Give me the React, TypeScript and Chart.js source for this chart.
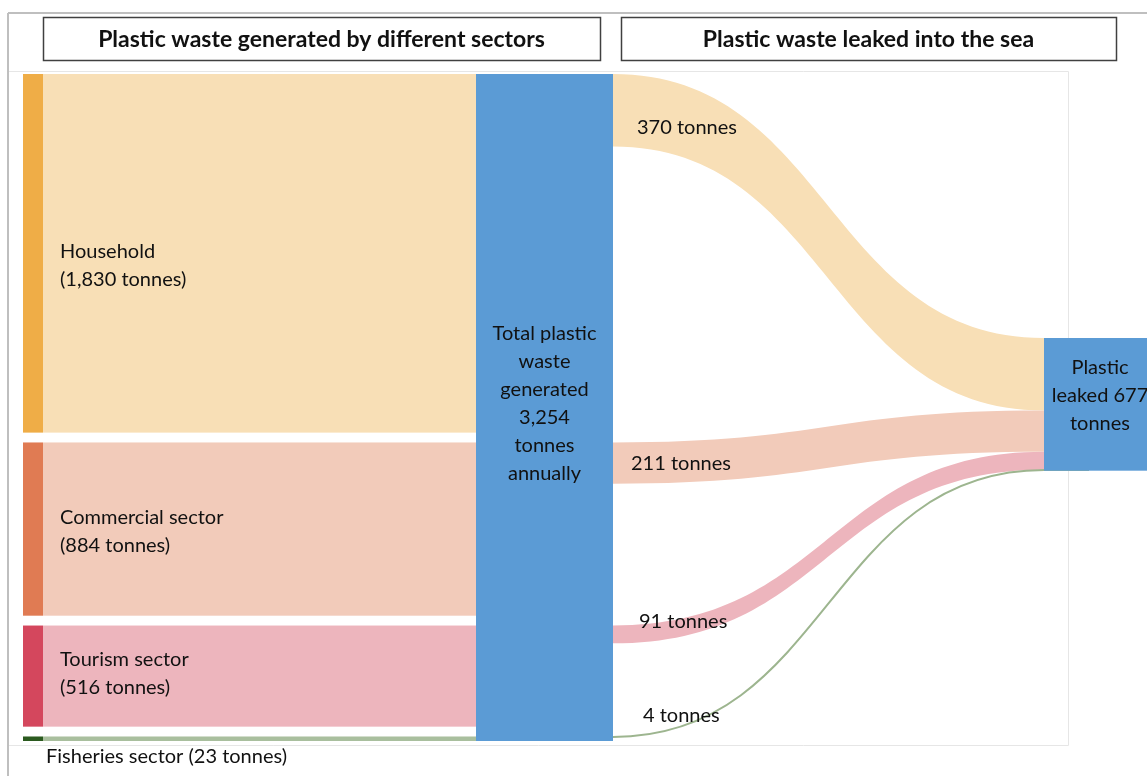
import React, { useEffect, useRef } from "react";
import { Chart, registerables } from "chart.js";

Chart.register(...registerables);

// Plastic waste generated per sector and the share of it leaked into the sea (tonnes per year)
const sectors = ["Household", "Commercial sector", "Tourism sector", "Fisheries sector"];
const generated = [1830, 884, 516, 23];
const leaked = [370, 211, 91, 4];
const totalGenerated = 3254;
const totalLeaked = 677;

const columnTitles = ["Plastic waste generated by different sectors", "Plastic waste leaked into the sea"];
const totalLabel = ["Total plastic", "waste", "generated", "3,254", "tonnes", "annually"];
const leakedLabel = ["Plastic", "leaked 677", "tonnes"];

const stripColors = ["#EFAD47", "#E07B53", "#D4475D", "#2B5A1F"];
const bandColors = ["#F8DFB6", "#F2CBBA", "#EDB5BD", "#A9BF9E"];
const flowColors = ["#F8DFB6", "#F2CBBA", "#EDB5BD", "#9DB58F"];
const nodeBlue = "#5B9BD5";

const FONT = "Lato, 'Open Sans', sans-serif";
const fmt = (v: number) => v.toLocaleString("en-US");

const sankeyPlugin = {
  id: "sankeyDraw",
  afterDraw(chart: any) {
    const { ctx, scales } = chart;
    const xs = scales.x;
    const ys = scales.y;
    const X = (v: number) => xs.getPixelForValue(v);
    const Y = (v: number) => ys.getPixelForValue(v);

    // column positions along the horizontal scale
    const stripL = 23, stripR = 43, centerL = 476, centerR = 613, rightL = 1044, rightR = 1170;
    const gap = 48;
    const sumGen = generated.reduce((a, b) => a + b, 0);
    const k = (totalGenerated - gap * (generated.length - 1)) / sumGen;
    const leakTop = 1288;

    ctx.save();

    // frames
    ctx.strokeStyle = "#BFBFBF";
    ctx.lineWidth = 2;
    ctx.beginPath();
    ctx.moveTo(8, 13);
    ctx.lineTo(chart.width, 13);
    ctx.moveTo(8, 13);
    ctx.lineTo(8, chart.height);
    ctx.stroke();
    ctx.strokeStyle = "#E6E6E6";
    ctx.lineWidth = 1;
    ctx.beginPath();
    ctx.moveTo(9, 71.5);
    ctx.lineTo(1068.5, 71.5);
    ctx.lineTo(1068.5, 745.5);
    ctx.lineTo(9, 745.5);
    ctx.stroke();

    // column title boxes
    const boxes = [
      [43, 600],
      [621, 1116],
    ];
    ctx.font = `bold 23px ${FONT}`;
    ctx.textAlign = "center";
    ctx.textBaseline = "middle";
    boxes.forEach(([a, b], i) => {
      ctx.fillStyle = "#FFFFFF";
      ctx.fillRect(a, 17, b - a, 43);
      ctx.strokeStyle = "#404040";
      ctx.lineWidth = 1.5;
      ctx.strokeRect(a + 0.5, 17.5, b - a, 43);
      ctx.fillStyle = "#111111";
      ctx.fillText(columnTitles[i], (a + b) / 2, 40);
    });

    // sector nodes with their bands into the total node
    const tops: number[] = [];
    let acc = 0;
    generated.forEach((v, i) => {
      const t = acc;
      const b = acc + v * k;
      tops.push(t);
      ctx.fillStyle = bandColors[i];
      ctx.fillRect(X(stripR), Y(t), X(centerL) - X(stripR), Y(b) - Y(t));
      ctx.fillStyle = stripColors[i];
      ctx.fillRect(X(stripL), Y(t), X(stripR) - X(stripL), Y(b) - Y(t));
      acc = b + gap;
    });

    // total node
    ctx.fillStyle = nodeBlue;
    ctx.fillRect(X(centerL), Y(0), X(centerR) - X(centerL), Y(totalGenerated) - Y(0));

    // flows into the sea
    let racc = leakTop;
    leaked.forEach((v, i) => {
      const s0 = tops[i];
      const s1 = s0 + v * k;
      const e0 = racc;
      const e1 = racc + v * k;
      racc = e1;
      const x0 = X(centerR), x1 = X(rightL);
      const xm = (x0 + x1) / 2;
      if (Y(s1) - Y(s0) < 2) {
        const ym0 = (Y(s0) + Y(s1)) / 2;
        const ym1 = (Y(e0) + Y(e1)) / 2;
        ctx.strokeStyle = flowColors[i];
        ctx.lineWidth = 2;
        ctx.beginPath();
        ctx.moveTo(x0, ym0);
        ctx.bezierCurveTo(xm, ym0, xm, ym1, x1, ym1);
        ctx.lineTo(x1 + 45, ym1);
        ctx.stroke();
      } else {
        ctx.fillStyle = flowColors[i];
        ctx.beginPath();
        ctx.moveTo(x0, Y(s0));
        ctx.bezierCurveTo(xm, Y(s0), xm, Y(e0), x1, Y(e0));
        ctx.lineTo(x1, Y(e1));
        ctx.bezierCurveTo(xm, Y(e1), xm, Y(s1), x0, Y(s1));
        ctx.closePath();
        ctx.fill();
      }
    });

    // leaked node
    ctx.fillStyle = nodeBlue;
    ctx.fillRect(X(rightL), Y(leakTop), X(rightR) - X(rightL), Y(leakTop + totalLeaked * k) - Y(leakTop));

    // texts
    ctx.fillStyle = "#111111";
    ctx.font = `20px ${FONT}`;
    ctx.textAlign = "left";
    ctx.textBaseline = "middle";
    const labelShift = [-2, -12, -17];
    generated.forEach((v, i) => {
      const t = tops[i];
      const b = t + v * k;
      if (i < 3) {
        const cy = (Y(t) + Y(b)) / 2 + labelShift[i];
        ctx.fillText(sectors[i], 60, cy);
        ctx.fillText(`(${fmt(v)} tonnes)`, 60, cy + 28);
      } else {
        ctx.fillText(`${sectors[i]} (${fmt(v)} tonnes)`, 46, Y(b) + 16);
      }
    });

    ctx.textAlign = "center";
    const cx = (X(centerL) + X(centerR)) / 2;
    totalLabel.forEach((line, i) => ctx.fillText(line, cx, 334 + i * 28));
    const rx = X(rightL) + 56;
    leakedLabel.forEach((line, i) => ctx.fillText(line, rx, 368 + i * 28));

    ctx.textAlign = "left";
    const offsets = [
      [637, 128],
      [631, 464],
      [639, 622],
      [643, 716],
    ];
    leaked.forEach((v, i) => {
      ctx.fillText(`${fmt(v)} tonnes`, offsets[i][0], offsets[i][1]);
    });

    ctx.restore();
  },
};

export default function App() {
  const ref = useRef<HTMLCanvasElement | null>(null);
  useEffect(() => {
    document.body.style.margin = "0";
    if (!ref.current) return;
    const chart = new Chart(ref.current, {
      type: "scatter",
      data: { datasets: [{ data: [] }] },
      options: {
        responsive: false,
        animation: false,
        layout: { padding: { top: 74, bottom: 35, left: 0, right: 0 } },
        plugins: { legend: { display: false }, tooltip: { enabled: false } },
        scales: {
          x: { type: "linear", min: 0, max: 1147, display: false },
          y: { type: "linear", min: 0, max: totalGenerated, reverse: true, display: false },
        },
      },
      plugins: [sankeyPlugin],
    });
    return () => chart.destroy();
  }, []);
  return (
    <div style={{ width: 1147, height: 776, background: "#FFFFFF" }}>
      <canvas ref={ref} width={1147} height={776} />
    </div>
  );
}
